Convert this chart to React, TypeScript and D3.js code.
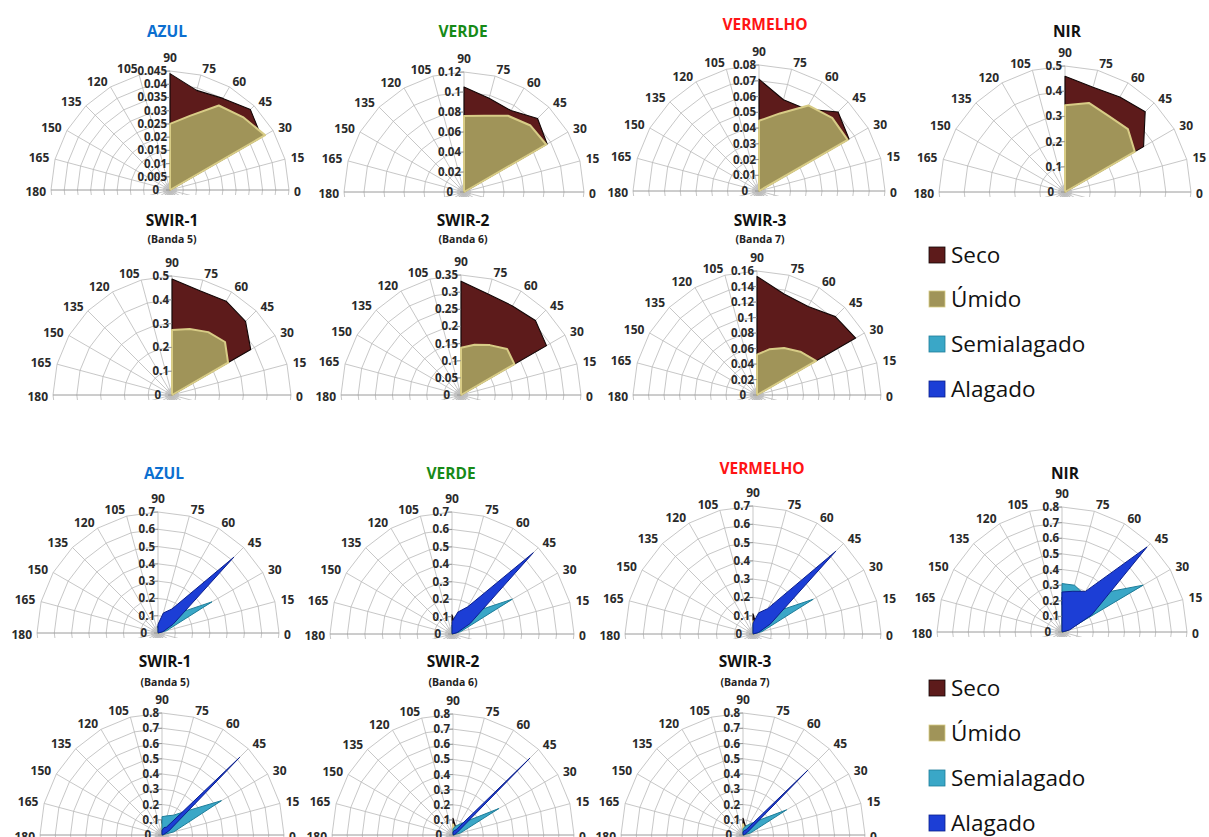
import React from 'react';
import * as d3 from 'd3';

const W = 1209;
const H = 837;
const XS = 1.0; // horizontal stretch of the polar grid

// categories (degrees) drawn as spokes, labels for the visible half
const SPOKES = [0, 15, 30, 45, 60, 75, 90, 105, 120, 135, 150, 165, 180, 195, 210, 225, 240, 255, 270, 285, 300, 315, 330, 345];
const ANGLE_LABELS = [0, 15, 30, 45, 60, 75, 90, 105, 120, 135, 150, 165, 180];
// angles that carry non-zero values (all other categories are 0)
const SERIES_ANGLES = [0, 15, 30, 45, 60, 75, 90];
const SERIES_NAMES = ['Seco', 'Úmido', 'Semialagado', 'Alagado'];

const BANDS = ['AZUL', 'VERDE', 'VERMELHO', 'NIR', 'SWIR-1', 'SWIR-2', 'SWIR-3'];
const BAND_SUBTITLES = ['', '', '', '', '(Banda 5)', '(Banda 6)', '(Banda 7)'];

const TOP_TICKS = [
  [0, 0.005, 0.01, 0.015, 0.02, 0.025, 0.03, 0.035, 0.04, 0.045],
  [0, 0.02, 0.04, 0.06, 0.08, 0.1, 0.12],
  [0, 0.01, 0.02, 0.03, 0.04, 0.05, 0.06, 0.07, 0.08],
  [0, 0.1, 0.2, 0.3, 0.4, 0.5],
  [0, 0.1, 0.2, 0.3, 0.4, 0.5],
  [0, 0.05, 0.1, 0.15, 0.2, 0.25, 0.3, 0.35],
  [0, 0.02, 0.04, 0.06, 0.08, 0.1, 0.12, 0.14, 0.16],
];
const BOTTOM_TICKS = [
  [0, 0.1, 0.2, 0.3, 0.4, 0.5, 0.6, 0.7],
  [0, 0.1, 0.2, 0.3, 0.4, 0.5, 0.6, 0.7],
  [0, 0.1, 0.2, 0.3, 0.4, 0.5, 0.6, 0.7],
  [0, 0.1, 0.2, 0.3, 0.4, 0.5, 0.6, 0.7, 0.8],
  [0, 0.1, 0.2, 0.3, 0.4, 0.5, 0.6, 0.7, 0.8],
  [0, 0.1, 0.2, 0.3, 0.4, 0.5, 0.6, 0.7, 0.8],
  [0, 0.1, 0.2, 0.3, 0.4, 0.5, 0.6, 0.7, 0.8],
];

// values at 0,15,30,45,60,75,90 degrees, one row per band
const SECO_TOP = [
  [0, 0, 0.040, 0.043, 0.040, 0.039, 0.044],
  [0, 0, 0.096, 0.104, 0.094, 0.097, 0.105],
  [0, 0, 0.066, 0.071, 0.060, 0.060, 0.071],
  [0, 0, 0.36, 0.45, 0.435, 0.43, 0.459],
  [0, 0, 0.382, 0.437, 0.455, 0.453, 0.487],
  [0, 0, 0.288, 0.307, 0.30, 0.305, 0.332],
  [0, 0, 0.147, 0.143, 0.132, 0.135, 0.153],
];
const UMIDO_TOP = [
  [0, 0, 0.0415, 0.039, 0.0369, 0.029, 0.025],
  [0, 0, 0.095, 0.094, 0.088, 0.079, 0.076],
  [0, 0, 0.065, 0.0657, 0.0627, 0.051, 0.0446],
  [0, 0, 0.32, 0.353, 0.348, 0.366, 0.344],
  [0, 0, 0.272, 0.315, 0.305, 0.287, 0.273],
  [0, 0, 0.18, 0.19, 0.168, 0.152, 0.138],
  [0, 0, 0.088, 0.079, 0.07, 0.061, 0.052],
];
const SECO_BOTTOM = [
  [0, 0.01, 0.03, 0.03, 0.03, 0.03, 0.04],
  [0, 0.01, 0.04, 0.05, 0.05, 0.06, 0.11],
  [0, 0.01, 0.04, 0.05, 0.05, 0.06, 0.11],
  [0, 0.02, 0.15, 0.2, 0.2, 0.2, 0.22],
  [0, 0.01, 0.05, 0.06, 0.06, 0.07, 0.1],
  [0, 0.01, 0.04, 0.05, 0.05, 0.06, 0.11],
  [0, 0.01, 0.04, 0.05, 0.05, 0.06, 0.11],
];
const UMIDO_BOTTOM = [
  [0, 0.01, 0.02, 0.02, 0.02, 0.02, 0.025],
  [0, 0.01, 0.03, 0.03, 0.03, 0.04, 0.07],
  [0, 0.01, 0.03, 0.03, 0.03, 0.04, 0.07],
  [0, 0.01, 0.12, 0.15, 0.15, 0.15, 0.17],
  [0, 0.01, 0.03, 0.04, 0.04, 0.05, 0.07],
  [0, 0.01, 0.03, 0.03, 0.03, 0.04, 0.07],
  [0, 0.01, 0.03, 0.03, 0.03, 0.04, 0.07],
];
const SEMI_BOTTOM = [
  [0, 0.05, 0.36, 0.16, 0.1, 0.07, 0.04],
  [0, 0.05, 0.40, 0.18, 0.12, 0.08, 0.05],
  [0, 0.05, 0.38, 0.17, 0.11, 0.08, 0.05],
  [0, 0.03, 0.60, 0.35, 0.28, 0.31, 0.31],
  [0, 0.08, 0.45, 0.22, 0.15, 0.13, 0.12],
  [0, 0.05, 0.35, 0.13, 0.08, 0.06, 0.04],
  [0, 0.05, 0.33, 0.13, 0.08, 0.06, 0.04],
];
const ALAG_BOTTOM = [
  [0, 0.03, 0.1, 0.62, 0.16, 0.12, 0.05],
  [0, 0.03, 0.12, 0.66, 0.18, 0.13, 0.07],
  [0, 0.03, 0.11, 0.64, 0.16, 0.12, 0.06],
  [0, 0.05, 0.22, 0.77, 0.30, 0.27, 0.256],
  [0, 0.01, 0.05, 0.72, 0.06, 0.05, 0.03],
  [0, 0.01, 0.03, 0.72, 0.04, 0.03, 0.02],
  [0, 0.01, 0.03, 0.6, 0.04, 0.03, 0.02],
];

// layout: centre, radius, title position
const TOP_LAYOUT = [
  { cx: 170, cy: 190, r: 119, tx: 167, ty: 37, sy: 0 },
  { cx: 464, cy: 192, r: 120, tx: 463, ty: 37, sy: 0 },
  { cx: 759, cy: 191, r: 126, tx: 765, ty: 30, sy: 0 },
  { cx: 1065, cy: 192, r: 126, tx: 1067, ty: 37, sy: 0 },
  { cx: 172, cy: 395, r: 119, tx: 172, ty: 226, sy: 243 },
  { cx: 461, cy: 395, r: 120, tx: 463, ty: 226, sy: 243 },
  { cx: 757, cy: 395, r: 124, tx: 760, ty: 226, sy: 243 },
];
const BOTTOM_LAYOUT = [
  { cx: 158, cy: 633, r: 121, tx: 164, ty: 479, sy: 0 },
  { cx: 452, cy: 634, r: 122, tx: 451, ty: 479, sy: 0 },
  { cx: 753, cy: 634, r: 128, tx: 762, ty: 474, sy: 0 },
  { cx: 1062, cy: 632, r: 125, tx: 1065, ty: 479, sy: 0 },
  { cx: 162, cy: 835, r: 122, tx: 165, ty: 667, sy: 686 },
  { cx: 453, cy: 835, r: 121, tx: 453, ty: 667, sy: 686 },
  { cx: 743, cy: 835, r: 122, tx: 745, ty: 667, sy: 686 },
];

const TITLE_COLORS: Record<string, string> = {
  AZUL: '#0c6fd0', VERDE: '#178a17', VERMELHO: '#ff1414',
};
const SERIES_STYLE: Record<string, { fill: string; stroke: string; sw: number }> = {
  'Seco': { fill: '#5d1b1b', stroke: '#120606', sw: 1.1 },
  'Úmido': { fill: '#a09459', stroke: '#d8cc86', sw: 2 },
  'Semialagado': { fill: '#3aa7c7', stroke: '#1e7d99', sw: 1 },
  'Alagado': { fill: '#1c3ed6', stroke: '#0b1f8c', sw: 1 },
};

const LABEL_FONT = '"Open Sans", "DejaVu Sans", sans-serif';
const toRad = (d: number) => (d * Math.PI) / 180;

function Panel({ idx, band, sub, layout, ticks, series }: any) {
  const { cx, cy, r, tx, ty, sy } = layout;
  const max = ticks[ticks.length - 1];
  const rs = d3.scaleLinear().domain([0, max]).range([0, r]);
  const pt = (a: number, v: number): [number, number] => [
    cx + rs(v) * Math.cos(toRad(a)) * XS,
    cy - rs(v) * Math.sin(toRad(a)),
  ];
  const closed = d3.line().curve(d3.curveLinearClosed);
  const clipId = `clip-${idx}`;
  const tcol = TITLE_COLORS[band] || '#111';
  const lbl = { fontFamily: LABEL_FONT, fontWeight: 700, fontSize: 12, fill: '#2a2a2a' };

  return (
    <g>
      <defs>
        <clipPath id={clipId}>
          <rect x={cx - r * XS - 20} y={cy - r - 20} width={2 * r * XS + 40} height={r + 25} />
        </clipPath>
      </defs>
      <text x={tx} y={ty} textAnchor="middle" fontFamily={LABEL_FONT} fontWeight={700}
        fontSize={15.5} fill={tcol}>{band}</text>
      {sub && (
        <text x={tx} y={sy} textAnchor="middle" fontFamily={LABEL_FONT} fontWeight={700}
          fontSize={10.5} fill="#222">{sub}</text>
      )}
      <g clipPath={`url(#${clipId})`}>
        {ticks.slice(1).map((t: number) => (
          <path key={`ring-${t}`} d={closed(SPOKES.map(a => pt(a, t))) || ''}
            fill="none" stroke="#b9b9b9" strokeWidth={0.8} />
        ))}
        {SPOKES.map(a => {
          const [x, y] = pt(a, max);
          const axis = a === 0 || a === 180;
          return <line key={`sp-${a}`} x1={cx} y1={cy} x2={x} y2={y}
            stroke={axis ? '#9a9a9a' : '#b9b9b9'} strokeWidth={axis ? 1 : 0.8} />;
        })}
        {d3.range(0, 360, 6).map(a => (
          <line key={`st-${a}`} x1={cx} y1={cy} x2={cx + 7 * Math.cos(toRad(a))} y2={cy - 7 * Math.sin(toRad(a))}
            stroke="#bdbdbd" strokeWidth={0.6} />
        ))}
        {series.map((s: any) => {
          const st = SERIES_STYLE[s.name];
          const pts: [number, number][] = SERIES_ANGLES.map((a, i) => pt(a, s.values[i]));
          const d = closed([[cx, cy], ...pts]) || '';
          return (
            <path key={s.name} d={d} fill={st.fill} stroke={st.stroke} strokeWidth={st.sw} strokeLinejoin="round" />
          );
        })}
      </g>
      {ticks.map((t: number) => (
        <g key={`vt-${t}`}>
          <line x1={cx - 4} x2={cx} y1={cy - rs(t)} y2={cy - rs(t)} stroke="#8a8a8a" strokeWidth={0.8} />
          <text x={t === 0 ? cx - 11 : cx - 3} y={cy - rs(t) + 4} textAnchor="end" {...lbl}
            fontSize={11.5}>{String(t)}</text>
        </g>
      ))}
      {ANGLE_LABELS.map(a => {
        const gap = 6;
        if (a === 0) {
          return <text key={`al-${a}`} x={cx + r * XS + 5} y={cy + 6} textAnchor="start" {...lbl}>{a}</text>;
        }
        if (a === 180) {
          return <text key={`al-${a}`} x={cx - r * XS - 5} y={cy + 6} textAnchor="end" {...lbl}>{a}</text>;
        }
        if (a === 90) {
          return <text key={`al-${a}`} x={cx} y={cy - r - 9} textAnchor="middle" {...lbl}>{a}</text>;
        }
        const [x, y] = pt(a, max);
        const ox = Math.cos(toRad(a)) * gap;
        const oy = Math.sin(toRad(a)) * gap;
        return <text key={`al-${a}`} x={x + ox} y={y - oy + 4} textAnchor={a < 90 ? 'start' : 'end'} {...lbl}>{a}</text>;
      })}
    </g>
  );
}

function Legend({ y0 }: { y0: number[] }) {
  return (
    <g>
      {SERIES_NAMES.map((n, i) => {
        const st = SERIES_STYLE[n];
        return (
          <g key={n}>
            <rect x={929} y={y0[i] - 8} width={16} height={16} fill={st.fill} stroke={st.stroke} strokeWidth={0.8} />
            <text x={951} y={y0[i] + 8} fontFamily={LABEL_FONT} fontSize={22.5} fill="#111">{n}</text>
          </g>
        );
      })}
    </g>
  );
}

const TOP_LEGEND_Y = [255, 299, 344, 389];
const BOTTOM_LEGEND_Y = [688, 733, 778, 823];

export default function App() {
  return (
    <svg width={W} height={H} style={{ position: 'absolute', left: 0, top: 0, background: '#fff' }}>
      {BANDS.map((b, i) => (
        <Panel key={`t-${b}`} idx={`t${i}`} band={b} sub={BAND_SUBTITLES[i]} layout={TOP_LAYOUT[i]}
          ticks={TOP_TICKS[i]}
          series={[
            { name: 'Seco', values: SECO_TOP[i] },
            { name: 'Úmido', values: UMIDO_TOP[i] },
          ]} />
      ))}
      {BANDS.map((b, i) => (
        <Panel key={`b-${b}`} idx={`b${i}`} band={b} sub={BAND_SUBTITLES[i]} layout={BOTTOM_LAYOUT[i]}
          ticks={BOTTOM_TICKS[i]}
          series={[
            { name: 'Seco', values: SECO_BOTTOM[i] },
            { name: 'Úmido', values: UMIDO_BOTTOM[i] },
            { name: 'Semialagado', values: SEMI_BOTTOM[i] },
            { name: 'Alagado', values: ALAG_BOTTOM[i] },
          ]} />
      ))}
      <Legend y0={TOP_LEGEND_Y} />
      <Legend y0={BOTTOM_LEGEND_Y} />
    </svg>
  );
}
